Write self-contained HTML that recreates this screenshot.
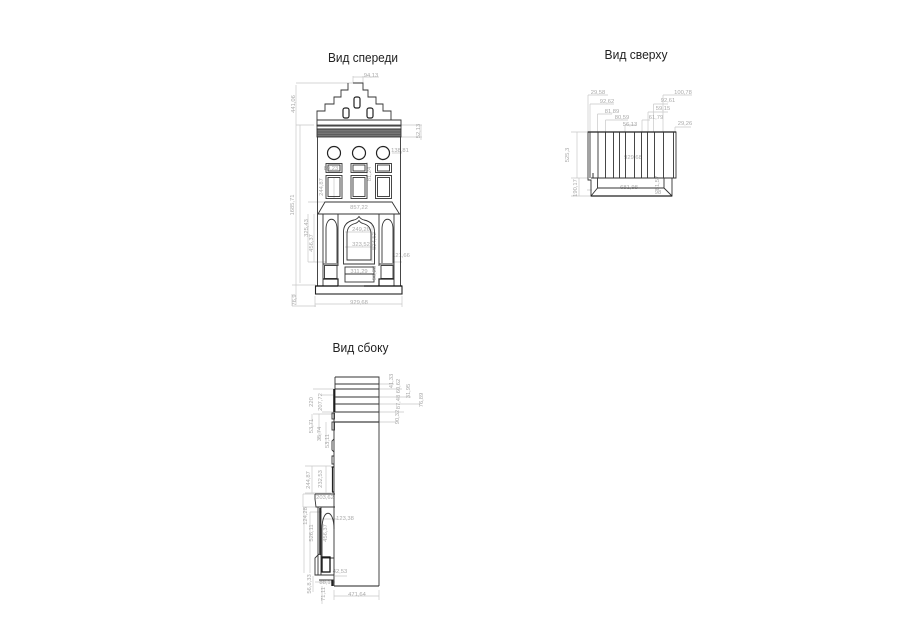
<!DOCTYPE html>
<html><head><meta charset="utf-8">
<style>
html,body{margin:0;padding:0;background:#fff;width:900px;height:636px;overflow:hidden}
svg{display:block}
.t{font-family:"Liberation Sans","DejaVu Sans",sans-serif;font-size:13px;fill:#222;text-anchor:start}
.k{fill:none;stroke:#333;stroke-width:.9}
.b{fill:none;stroke:#222;stroke-width:1.2}
.d{fill:none;stroke:#c8c8c8;stroke-width:.7}
.l{font-family:"Liberation Sans",sans-serif;font-size:5.8px;fill:#aaa;text-anchor:middle}
</style></head><body>
<svg width="900" height="636" viewBox="0 0 900 636" xmlns="http://www.w3.org/2000/svg">
<text class="t" x="328" y="62" textLength="70" lengthAdjust="spacingAndGlyphs">Вид спереди</text>
<text class="t" x="604.500" y="59" textLength="63" lengthAdjust="spacingAndGlyphs">Вид сверху</text>
<text class="t" x="332.500" y="352" textLength="56" lengthAdjust="spacingAndGlyphs">Вид сбоку</text>

<!-- FRONT dims -->
<path class="d" d="M353 83V76M363 83V76M353 77H379M296 83H353M296 85V305M314 125H296M401 125H422M401 137H422M421 125V140M300 125V283M300 285H316M292 294V306M292 285H316M292 306H316M315 296V307M402 296V307M315 304H402M392 153H402M308 202H325M308 214V262M314 214V262M308 262H326M393 262H402M345 232H372M345 247H374M346 274H373M372 225V262M367 162V176M328 178V197M334 198V177"/>
<text class="l" x="371" y="77">94,13</text>
<text class="l" x="296" y="104" transform="rotate(-90 296 104)" dy="-1">441,06</text>
<text class="l" x="420" y="131" transform="rotate(-90 420 131)">52,13</text>
<text class="l" x="294" y="205" transform="rotate(-90 294 205)">1685,71</text>
<text class="l" x="400" y="152">138,81</text>
<text class="l" x="331" y="170">89,23</text>
<text class="l" x="323" y="187" transform="rotate(-90 323 187)">244,87</text>
<text class="l" x="371" y="174" transform="rotate(-90 371 174)">81,24</text>
<text class="l" x="359" y="209">857,22</text>
<text class="l" x="308" y="228" transform="rotate(-90 308 228)">325,43</text>
<text class="l" x="313" y="243" transform="rotate(-90 313 243)">456,37</text>
<text class="l" x="361" y="231">249,26</text>
<text class="l" x="361" y="246">323,52</text>
<text class="l" x="376" y="241" transform="rotate(-90 376 241)">524,52</text>
<text class="l" x="401" y="257">121,66</text>
<text class="l" x="359" y="273">311,29</text>
<text class="l" x="376" y="273" transform="rotate(-90 376 273)">90,28</text>
<text class="l" x="296" y="300" transform="rotate(-90 296 300)">76,9</text>
<text class="l" x="359" y="304">929,68</text>

<!-- FRONT -->
<path class="k" d="M317 120V126H401V120ZM353 83H363V90H368V97H376V104H383V111H391V120H317V111H325V104H334V97H341V90H348V83"/>
<rect x="354" y="97" width="6" height="11" rx="2" class="b"/>
<rect x="343" y="108" width="6" height="10" rx="2" class="b"/>
<rect x="367" y="108" width="6" height="10" rx="2" class="b"/>
<rect x="317" y="125" width="84" height="4" fill="none" stroke="#333" stroke-width=".8"/>
<rect x="317" y="129" width="84" height="8" fill="#777" stroke="#222" stroke-width=".8"/>
<path d="M317 132H401M317 134.500H401" stroke="#444" stroke-width=".6"/>
<path class="k" d="M317.500 137V286M400.500 137V286"/>
<circle class="b" cx="334" cy="153" r="6.500"/><circle class="b" cx="359" cy="153" r="6.500"/><circle class="b" cx="383" cy="153" r="6.500"/>
<g class="k">
<rect x="326" y="163.500" width="16" height="9"/><rect x="328" y="165" width="12" height="6"/>
<rect x="351" y="163.500" width="16" height="9"/><rect x="353" y="165" width="12" height="6"/>
<rect x="375.500" y="163.500" width="16" height="9"/><rect x="377.500" y="165" width="12" height="6"/>
<rect x="326" y="175.500" width="16" height="23"/><rect x="328" y="177.500" width="12" height="19"/>
<rect x="351" y="175.500" width="16" height="23"/><rect x="353" y="177.500" width="12" height="19"/>
<rect x="375.500" y="175.500" width="16" height="23"/><rect x="377.500" y="177.500" width="12" height="19"/>
</g>
<path class="k" d="M325 202H392L399.500 214H318ZM318 214H400"/>
<path class="k" d="M323 214V286M338 214V266M379 214V266M394 214V286"/>
<path class="k" d="M343.500 264V232C343.500 224 349 221 354 220C356 219.500 358 218 359 216.500C360 218 362 219.500 364 220C369 221 374.500 224 374.500 232V264Z"/>
<path class="k" d="M347 260V234C347 227 351 224.500 355 223.500C357 223 358 222 359 220.500C360 222 361 223 363 223.500C367 224.500 371 227 371 234V260Z"/>
<path class="k" d="M326 263V229C326 216 337 216 337 229V263" stroke-width="1"/>
<path class="k" d="M382 263V229C382 216 393 216 393 229V263" stroke-width="1"/>
<path class="k" d="M323 264H338M379 264H394"/>
<rect x="324.500" y="265.500" width="12.500" height="13" class="k"/>
<rect x="381" y="265.500" width="12" height="13" class="k"/>
<rect x="345" y="267" width="29" height="15" class="k"/><path class="k" d="M345 274H374"/>
<path class="b" d="M323 279H338V286M379 286V279H394"/>
<rect x="315.500" y="286" width="86.500" height="8" fill="none" stroke="#222" stroke-width="1.100"/>
<path d="M315.500 286H338M364 286H402" stroke="#111" stroke-width="1.300"/>

<!-- TOP dims -->
<path class="d" d="M588 132V95M590 132V104M597.500 132V114M605.500 132V120M625 132V125M642 132V120M648 132V112M653.500 132V104M663 132V95M675 132V127M588 95H608M590 104H614M597.500 114H612M605.500 120H628M625 125H636M642 120H650M648 112H668M653.500 104H668M663 95H692M675 127H691M571 132H588M571 178H588M571 196H591M577 132V178M579 178V196M587 190H592"/>
<text class="l" x="598" y="94">29,58</text>
<text class="l" x="607" y="103">92,62</text>
<text class="l" x="612" y="113">81,89</text>
<text class="l" x="622" y="119">80,59</text>
<text class="l" x="630" y="126">56,13</text>
<text class="l" x="656" y="119">61,79</text>
<text class="l" x="663" y="110">59,15</text>
<text class="l" x="668" y="102">92,61</text>
<text class="l" x="683" y="94">100,78</text>
<text class="l" x="685" y="125">29,26</text>
<text class="l" x="569" y="155" transform="rotate(-90 569 155)">525,3</text>
<text class="l" x="633" y="159">929,68</text>
<text class="l" x="577" y="188" transform="rotate(-90 577 188)">190,17</text>
<text class="l" x="629" y="189">681,98</text>
<text class="l" x="659" y="183" transform="rotate(-90 659 183)">81,57</text>
<text class="l" x="658" y="194">98</text>

<!-- TOP -->
<path class="k" d="M588 132H676V178H672V196H591V180H588Z"/>
<path d="M588 132H676" stroke="#222" stroke-width="1.300"/>
<path class="k" d="M590 132V178M673.500 132V178M598 132V178M605.500 132V178M613.500 132V178M619.500 132V178M625.500 132V178M634.500 132V178M641.500 132V178M647.500 132V178M654.500 132V178M663.500 132V178"/>
<path class="k" d="M591 178H676M597.500 178V188H664V178M597.500 188L591 196M664 188L672 196M591 196H672"/>
<path d="M593 173V178" stroke="#333" stroke-width="1"/>
<path d="M591 196H672" stroke="#222" stroke-width="1.300"/>

<!-- SIDE dims -->
<path class="d" d="M379 384H394M379 389H402M379 397H411M379 404H420M379 412H404M379 422H396M313 389H335M313 414H335M322 395H333M322 412H333M312 414V428M319 414V440M326 422V444M305 466H331M305 493H331M312 466V493M326 466V493M303 494H315M303 507H318M303 494V507M304 507V573M310 512V573M310 512H322M337 519H322M335 576H347M315 582H335M313 576V592M322 586V604M334 590V600M379 590V600M334 596H379"/>
<text class="l" x="393" y="381" transform="rotate(-90 393 381)">41,33</text>
<text class="l" x="400" y="386" transform="rotate(-90 400 386)">60,62</text>
<text class="l" x="410" y="391" transform="rotate(-90 410 391)">31,95</text>
<text class="l" x="400" y="402" transform="rotate(-90 400 402)">87,48</text>
<text class="l" x="423" y="400" transform="rotate(-90 423 400)">76,89</text>
<text class="l" x="399" y="417" transform="rotate(-90 399 417)">90,32</text>
<text class="l" x="313" y="402" transform="rotate(-90 313 402)">220</text>
<text class="l" x="322" y="402" transform="rotate(-90 322 402)">207,72</text>
<text class="l" x="313" y="426" transform="rotate(-90 313 426)">53,71</text>
<text class="l" x="321" y="434" transform="rotate(-90 321 434)">35,74</text>
<text class="l" x="329" y="441" transform="rotate(-90 329 441)">53,11</text>
<text class="l" x="310" y="480" transform="rotate(-90 310 480)">244,87</text>
<text class="l" x="322" y="479" transform="rotate(-90 322 479)">232,53</text>
<text class="l" x="325" y="499">203,62</text>
<text class="l" x="307" y="516" transform="rotate(-90 307 516)">124,28</text>
<text class="l" x="313" y="533" transform="rotate(-90 313 533)">526,11</text>
<text class="l" x="327" y="533" transform="rotate(-90 327 533)">456,37</text>
<text class="l" x="345" y="520">123,38</text>
<text class="l" x="340" y="573">42,53</text>
<text class="l" x="325" y="584">88,1</text>
<text class="l" x="311" y="584" transform="rotate(-90 311 584)">56,8,33</text>
<text class="l" x="325" y="594" transform="rotate(-90 325 594)">71,11</text>
<text class="l" x="357" y="596">471,64</text>

<!-- SIDE -->
<path class="k" d="M335 377H379V412M335 377V412M335 384H379M335 389H379M335 397H379M335 404H379M335 412H379"/>
<path d="M333 422H379" stroke="#111" stroke-width="1.100"/>
<path class="k" d="M379 412V586M334 412V586"/>
<path d="M334 586H379" stroke="#222" stroke-width="1"/>
<path d="M334 389V412" stroke="#111" stroke-width="1.500"/>
<rect x="332" y="413" width="2.500" height="6" class="k"/>
<rect x="332" y="422" width="2.500" height="8" class="k"/>
<path class="k" d="M334 439L332 441V450L334 452M334 456H332V464H334"/>
<path class="b" d="M331.500 467H334M332.500 467V492H334"/>
<path class="k" d="M315 494H335M315 494V499L316 507H335"/>
<path class="k" d="M317 507H321V575M318 507V575"/>
<path d="M320 508V555" stroke="#222" stroke-width="1.500"/>
<path class="k" d="M322 558V529C322 508 334 508 334 529"/>
<path class="k" d="M322 558H334M319 554L315 558V575H321"/>
<rect x="322" y="557" width="8" height="15" fill="none" stroke="#111" stroke-width="1.300"/>
<path class="k" d="M320 575H334M319 580H333V586"/>
<path d="M332 580V586" stroke="#111" stroke-width="1.300"/>
</svg>
</body></html>
